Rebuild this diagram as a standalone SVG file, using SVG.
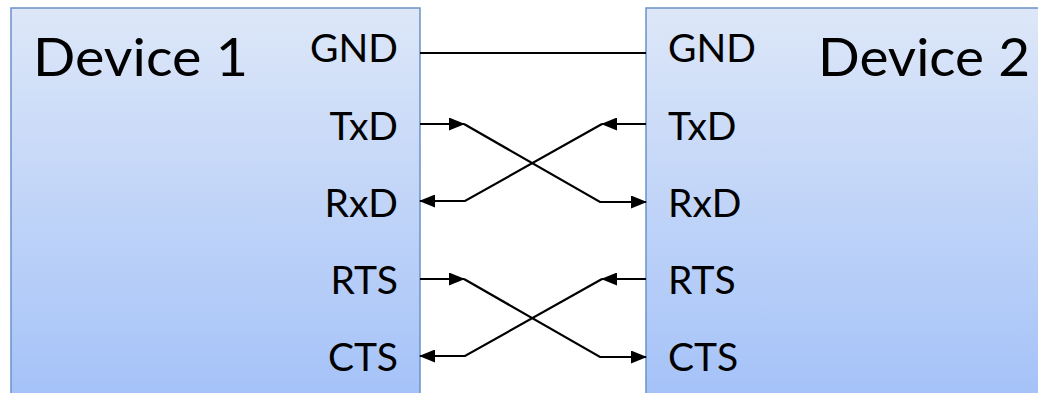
<svg xmlns="http://www.w3.org/2000/svg" width="1038" height="393" viewBox="0 0 1038 393">
<defs>
<linearGradient id="g" x1="0" y1="0" x2="0" y2="1">
<stop offset="0" stop-color="#dde7f8"/>
<stop offset="1" stop-color="#a3c1f8"/>
</linearGradient>
<marker id="ah" viewBox="0 0 16 13" refX="15" refY="6.5" markerWidth="16" markerHeight="13" markerUnits="userSpaceOnUse" orient="auto">
<path d="M0,0 L16,6.5 L0,13 Z" fill="#000"/>
</marker>
<style>
.box{fill:url(#g);stroke:#6a92c8;stroke-width:1.5}
.t{font-family:Lato,"Open Sans",sans-serif;fill:#000}
.big{font-size:53px}
.lab{font-size:39px}
.w{fill:none;stroke:#000;stroke-width:2.2}
</style>
</defs>
<g id="device1">
<rect class="box" x="11" y="8" width="409" height="400"/>
<text class="t big" x="33" y="76" textLength="215" lengthAdjust="spacingAndGlyphs">Device 1</text>
<text class="t lab" x="398" y="62" text-anchor="end">GND</text>
<text class="t lab" x="398" y="140" text-anchor="end">TxD</text>
<text class="t lab" x="398" y="217" text-anchor="end">RxD</text>
<text class="t lab" x="398" y="294" text-anchor="end">RTS</text>
<text class="t lab" x="398" y="371" text-anchor="end">CTS</text>
</g>
<g id="device2">
<rect class="box" x="646" y="8" width="420" height="400"/>
<text class="t big" x="818" y="76" textLength="212" lengthAdjust="spacingAndGlyphs">Device 2</text>
<text class="t lab" x="668" y="62">GND</text>
<text class="t lab" x="668" y="140">TxD</text>
<text class="t lab" x="668" y="217">RxD</text>
<text class="t lab" x="668" y="294">RTS</text>
<text class="t lab" x="668" y="371">CTS</text>
</g>
<g id="connectors">
<line class="w" x1="420" y1="53" x2="646" y2="53"/>
<line class="w" x1="420" y1="124" x2="464" y2="124" marker-end="url(#ah)"/>
<polyline class="w" points="464,124 600,202 646,202" marker-end="url(#ah)"/>
<line class="w" x1="646" y1="124" x2="602" y2="124" marker-end="url(#ah)"/>
<polyline class="w" points="602,124 465,201 420,201" marker-end="url(#ah)"/>
<line class="w" x1="420" y1="279" x2="464" y2="279" marker-end="url(#ah)"/>
<polyline class="w" points="464,279 600,357 646,357" marker-end="url(#ah)"/>
<line class="w" x1="646" y1="279" x2="602" y2="279" marker-end="url(#ah)"/>
<polyline class="w" points="602,279 465,356 420,356" marker-end="url(#ah)"/>
</g>
</svg>
